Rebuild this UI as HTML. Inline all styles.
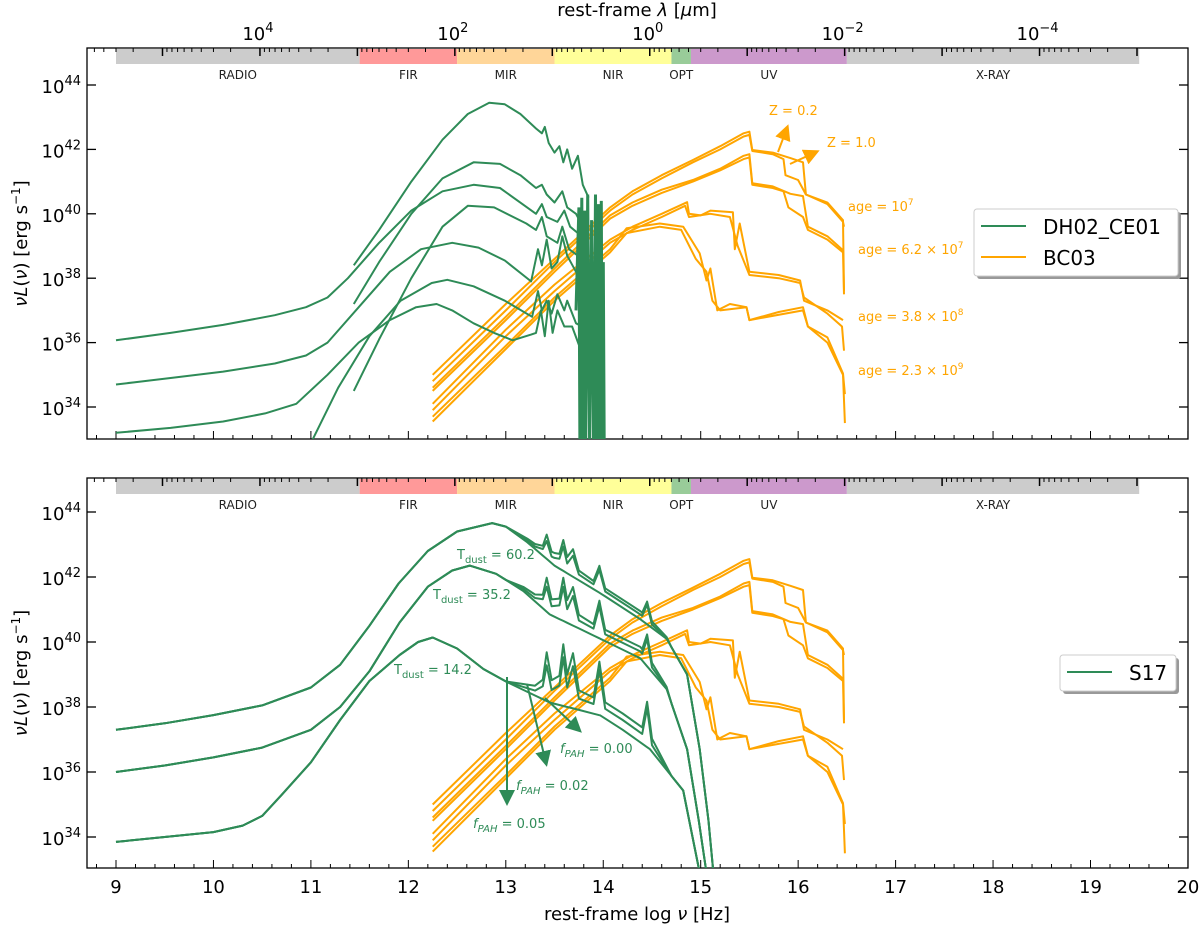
<!DOCTYPE html>
<html><head><meta charset="utf-8"><style>
html,body{margin:0;padding:0;background:#fff;width:1200px;height:925px;overflow:hidden}
svg{display:block;font-family:"DejaVu Sans","Liberation Sans",sans-serif}
</style></head><body>
<svg id="chart" width="1200" height="925" viewBox="0 0 1200 925" xmlns="http://www.w3.org/2000/svg"></svg>
<script>
// ---------- data ----------
const bandNames=["RADIO","FIR","MIR","NIR","OPT","UV","X-RAY"];
const bandStart=[9,11.5,12.5,13.5,14.7,14.9,16.5];
const bandEnd=[11.5,12.5,13.5,14.7,14.9,16.5,19.5];
const bandColors=["#cccccc","#ff9999","#ffd699","#ffff99","#99cc99","#cc99cc","#cccccc"];
const xTicks=[9,10,11,12,13,14,15,16,17,18,19,20];
const yTicks=[34,36,38,40,42,44];
const lamLabelExp=[4,2,0,-2,-4];

const dh02=[
[[11.44,38.4],[11.70,39.5],[12.03,41.0],[12.35,42.3],[12.61,43.1],[12.83,43.45],[12.99,43.4],[13.15,43.1],[13.31,42.65],[13.37,42.5],[13.40,42.7],[13.44,42.2],[13.50,41.9],[13.55,42.1],[13.59,41.6],[13.63,42.0],[13.68,41.4],[13.74,41.8],[13.79,40.9],[13.85,40.5]],
[[11.44,37.2],[11.70,38.5],[12.03,40.0],[12.35,41.1],[12.67,41.6],[12.94,41.55],[13.15,41.2],[13.31,40.8],[13.37,40.9],[13.42,40.6],[13.50,40.35],[13.58,40.7],[13.63,40.2],[13.72,40.0],[13.79,39.6],[13.85,39.4]],
[[9,36.07],[9.56,36.3],[10.10,36.55],[10.63,36.85],[10.95,37.1],[11.17,37.4],[11.38,38.0],[11.70,39.1],[12.03,40.1],[12.35,40.7],[12.67,40.9],[12.94,40.8],[13.31,40.0],[13.37,40.3],[13.42,39.9],[13.53,39.75],[13.60,40.1],[13.66,39.6],[13.74,39.4],[13.85,39.2]],
[[11.44,34.5],[11.70,36.1],[12.03,38.0],[12.35,39.6],[12.61,40.25],[12.88,40.2],[13.21,39.7],[13.31,39.5],[13.37,39.9],[13.42,39.3],[13.53,39.1],[13.58,39.6],[13.65,38.9],[13.74,38.7],[13.85,38.4]],
[[9,34.7],[9.56,34.9],[10.10,35.1],[10.63,35.35],[10.95,35.6],[11.17,36.0],[11.49,37.1],[11.81,38.2],[12.13,38.9],[12.45,39.1],[12.72,38.95],[12.99,38.55],[13.26,37.9],[13.33,38.9],[13.37,38.4],[13.42,39.2],[13.47,38.3],[13.53,38.5],[13.58,39.3],[13.63,38.7],[13.72,38.2],[13.79,37.9],[13.85,37.7]],
[[11.02,33.0],[11.28,34.6],[11.60,36.2],[11.92,37.3],[12.24,37.85],[12.40,37.95],[12.67,37.75],[12.99,37.3],[13.27,36.8],[13.33,37.6],[13.37,37.0],[13.42,37.3],[13.47,36.9],[13.53,37.5],[13.60,37.0],[13.63,37.3],[13.72,36.6],[13.85,36.4]],
[[9,33.2],[9.56,33.35],[10.10,33.55],[10.53,33.8],[10.85,34.1],[11.17,35.0],[11.49,36.0],[11.81,36.7],[12.08,37.1],[12.29,37.2],[12.45,37.0],[12.67,36.6],[12.88,36.3],[13.07,36.07],[13.26,36.25],[13.31,36.3],[13.36,37.0],[13.40,36.2],[13.44,37.3],[13.48,36.3],[13.53,37.0],[13.60,36.5],[13.68,36.5],[13.79,35.6],[13.85,35.3]]
];
const dh02Spikes=[[13.72,37],[13.75,40.2],[13.76,32.8],[13.78,40.5],[13.79,32.8],[13.81,40.1],[13.82,32.8],[13.84,40.6],[13.86,32.8],[13.88,39.8],[13.9,32.8],[13.92,40.6],[13.93,32.8],[13.95,40.3],[13.96,32.8],[13.98,40.4],[13.99,32.8],[14.0,38.5],[14.01,32.8]];

const bc03=[
[[12.25,35.0],[13.0,37.2],[13.5,38.6],[14.07,40.2],[14.3,40.7],[14.6,41.2],[14.92,41.67],[15.2,42.1],[15.44,42.5],[15.5,42.55],[15.53,41.98],[15.74,41.9],[15.92,41.73],[16.05,41.6],[16.08,40.6],[16.3,40.3],[16.46,39.75],[16.47,39.6]],
[[12.25,34.8],[13.0,37.0],[13.5,38.5],[14.07,40.1],[14.3,40.6],[14.6,41.1],[14.92,41.6],[15.2,42.0],[15.44,42.4],[15.5,42.45],[15.53,41.95],[15.74,41.85],[15.85,41.7],[15.87,41.2],[16.0,41.05],[16.08,40.6],[16.3,40.35],[16.46,39.8],[16.47,37.6]],
[[12.25,34.6],[13.0,36.8],[13.5,38.3],[14.07,39.95],[14.3,40.35],[14.6,40.75],[14.92,41.05],[15.2,41.4],[15.44,41.8],[15.5,41.85],[15.53,40.95],[15.74,40.85],[15.92,40.62],[16.05,40.55],[16.1,39.6],[16.3,39.3],[16.46,38.87]],
[[12.25,34.5],[13.0,36.7],[13.5,38.2],[14.07,39.85],[14.3,40.25],[14.6,40.65],[14.92,41.0],[15.2,41.35],[15.44,41.7],[15.5,41.75],[15.53,40.9],[15.74,40.8],[15.85,40.7],[15.9,40.2],[16.05,39.9],[16.1,39.5],[16.3,39.2],[16.46,38.8],[16.47,37.5]],
[[12.25,34.1],[13.0,36.4],[13.5,37.8],[14.07,39.2],[14.3,39.6],[14.6,40.0],[14.86,40.36],[14.88,40.0],[15.0,39.95],[15.1,40.1],[15.33,40.05],[15.35,38.9],[15.4,39.7],[15.5,38.2],[15.8,38.1],[16.02,37.93],[16.06,37.3],[16.3,37.0],[16.46,36.7]],
[[12.25,33.9],[13.0,36.2],[13.5,37.6],[14.07,39.1],[14.3,39.5],[14.6,39.9],[14.84,40.25],[14.88,39.9],[15.1,40.0],[15.3,39.9],[15.38,39.0],[15.5,38.1],[15.8,38.0],[16.02,37.85],[16.06,37.4],[16.3,36.9],[16.45,36.5],[16.47,35.75]],
[[12.25,33.7],[13.0,35.9],[13.5,37.4],[14.07,38.9],[14.24,39.55],[14.58,39.7],[14.82,39.6],[14.99,38.77],[15.06,37.93],[15.1,38.3],[15.17,37.0],[15.3,37.2],[15.47,37.1],[15.5,36.7],[15.8,36.95],[16.05,37.1],[16.1,36.5],[16.3,36.16],[16.46,35.04],[16.48,34.4]],
[[12.25,33.55],[13.0,35.8],[13.5,37.3],[14.07,38.8],[14.24,39.4],[14.58,39.6],[14.8,39.5],[14.95,38.6],[15.06,38.2],[15.12,37.3],[15.2,37.0],[15.47,37.1],[15.5,36.7],[16.05,37.0],[16.1,36.5],[16.3,36.0],[16.46,35.0],[16.48,33.5]]
];

const s17Base=[
[[9,37.3],[9.5,37.5],[10,37.75],[10.5,38.05],[11.0,38.6],[11.3,39.3],[11.6,40.5],[11.9,41.8],[12.2,42.8],[12.5,43.4],[12.86,43.66],[13.0,43.55],[13.22,43.07],[13.5,42.35],[13.97,41.5],[14.38,40.7],[14.65,40.1],[14.86,39.0],[14.99,36.7],[15.08,34.5],[15.13,32.9]],
[[9,36.0],[9.5,36.2],[10,36.45],[10.5,36.75],[11.0,37.3],[11.3,38.0],[11.6,39.1],[11.91,40.6],[12.2,41.7],[12.45,42.2],[12.63,42.35],[12.9,42.1],[13.18,41.57],[13.45,40.85],[13.97,40.1],[14.38,39.5],[14.65,38.55],[14.86,36.7],[14.98,34.5],[15.06,32.9]],
[[9,33.85],[9.5,34.0],[10,34.15],[10.3,34.35],[10.5,34.65],[10.7,35.3],[11.0,36.3],[11.3,37.6],[11.6,38.8],[11.91,39.6],[12.1,40.0],[12.25,40.14],[12.5,39.8],[12.77,39.17],[13.01,38.77],[13.45,38.14],[13.97,37.74],[14.2,37.3],[14.48,36.7],[14.82,35.43],[14.99,32.9]]
];
const pahV=[13.0,13.3,13.38,13.42,13.47,13.55,13.59,13.63,13.69,13.75,13.9,13.96,14.02,14.4,14.45,14.5,14.7];
const pahOff05=[0,0.3,0.6,1.5,0.7,0.9,1.9,1.0,1.7,0.6,0.5,1.65,0.5,0.5,1.4,0.4,0];
const pahOff02=[0,0.15,0.4,1.1,0.4,0.6,1.5,0.6,1.3,0.35,0.3,1.4,0.3,0.3,1.2,0.2,0];
const pahScale=[0.5,0.7,1.0];

// ---------- helpers ----------
const NS="http://www.w3.org/2000/svg";
const svg=document.getElementById('chart');
const L=87,R=1188;
const panels=[{top:48,bot:439,y44:85,dec:32.2},{top:478,bot:868,y44:512,dec:32.5}];
function X(v){return 116+(v-9)*97.45;}
function Yf(p){return l=>p.y44+(44-l)*p.dec;}
function mk(tag,attrs,parent){const e=document.createElementNS(NS,tag);for(const k in attrs)e.setAttribute(k,attrs[k]);(parent||svg).appendChild(e);return e;}
function interp(arr,xs,v){
  if(v<=xs[0])return arr[0]; if(v>=xs[xs.length-1])return arr[arr.length-1];
  for(let i=1;i<xs.length;i++){if(v<=xs[i]){const t=(v-xs[i-1])/(xs[i]-xs[i-1]);return arr[i-1]+t*(arr[i]-arr[i-1]);}}
}
function pathOf(pts,Y){return pts.map((p,i)=>(i?'L':'M')+X(p[0]).toFixed(1)+','+Y(p[1]).toFixed(1)).join('');}
const defs=mk('defs',{});
panels.forEach((p,i)=>{const c=mk('clipPath',{id:'clip'+i},defs);mk('rect',{x:L,y:p.top,width:R-L,height:p.bot-p.top},c);});

function lamTicks(){const out=[];for(let d=-5;d<=6;d++)for(let m=1;m<=9;m++){const lam=m*Math.pow(10,d);const v=Math.log10(3e14/lam);if(v>=8.7&&v<=20.3)out.push([v,m===1]);}return out;}

panels.forEach((p,pi)=>{
  const Y=Yf(p);
  const g=mk('g',{});
  
  
  bandNames.forEach((n,i)=>{
    const r=mk('rect',{x:X(bandStart[i]),y:p.top+1,width:X(bandEnd[i])-X(bandStart[i]),height:15,fill:bandColors[i]},g);
    
    
    const t=mk('text',{x:(X(bandStart[i])+X(bandEnd[i]))/2,y:p.top+31,'font-size':12,'text-anchor':'middle',fill:'#222'},g);
    t.textContent=n;
    
    
  });
  const f=mk('rect',{x:L,y:p.top,width:R-L,height:p.bot-p.top,fill:'none',stroke:'#000','stroke-width':1.3},g);
  
  
  for(let v=8.8;v<=20.01;v+=0.2){const maj=Math.abs(v-Math.round(v))<0.01;const x=X(v);if(x<L||x>R)continue;
    mk('line',{x1:x,x2:x,y1:p.bot,y2:p.bot-(maj?8:4),stroke:'#000','stroke-width':1},g);}
  lamTicks().forEach(([v,maj])=>{const x=X(v);if(x<L||x>R)return;mk('line',{x1:x,x2:x,y1:p.top,y2:p.top+(maj?8:4),stroke:'#000','stroke-width':maj?1.5:1},g);});
  yTicks.forEach(l=>{const y=Y(l);
    mk('line',{x1:L,x2:L+9,y1:y,y2:y,stroke:'#000','stroke-width':1.3},g);
    mk('line',{x1:R,x2:R-9,y1:y,y2:y,stroke:'#000','stroke-width':1.3},g);
    const t=mk('text',{x:81,y:y+8,'font-size':18,'text-anchor':'end',fill:'#000'},g);
    t.innerHTML='10<tspan dy="-8" font-size="13">'+l+'</tspan>';
    
    
  });
  const yl=mk('text',{x:0,y:0,'font-size':18,'text-anchor':'middle',transform:'translate(27,'+((p.top+p.bot)/2)+') rotate(-90)'},g);
  yl.innerHTML='<tspan font-style="italic">ν</tspan><tspan font-style="italic">L</tspan>(<tspan font-style="italic">ν</tspan>) [erg s<tspan dy="-7" font-size="12">−1</tspan><tspan dy="7">]</tspan>';
  
  
});

lamLabelExp.forEach(e=>{const v=Math.log10(3e14/Math.pow(10,e));
  const t=mk('text',{x:X(v)-2,y:40,'font-size':18,'text-anchor':'middle'});
  t.innerHTML='10<tspan dy="-8" font-size="13">'+(e<0?'−'+(-e):e)+'</tspan>';
  
  
});
const tt=mk('text',{x:637,y:16,'font-size':18,'text-anchor':'middle'});
tt.innerHTML='rest-frame <tspan font-style="italic">λ</tspan> [<tspan font-style="italic">μ</tspan>m]';


xTicks.forEach(v=>{const t=mk('text',{x:X(v),y:893,'font-size':18,'text-anchor':'middle'});t.textContent=v;
  
  });
const xt=mk('text',{x:637,y:920,'font-size':18,'text-anchor':'middle'});
xt.innerHTML='rest-frame log <tspan font-style="italic">ν</tspan> [Hz]';



const GREEN='#2e8b57',ORANGE='#ffa500';
(function(){const p=panels[0],Y=Yf(p);const g=mk('g',{'clip-path':'url(#clip0)'});
  bc03.forEach((c,i)=>{const e=mk('path',{d:pathOf(c,Y),fill:'none',stroke:ORANGE,'stroke-width':2,'stroke-linejoin':'round'},g);
    
    });
  dh02.forEach((c,i)=>{const e=mk('path',{d:pathOf(c,Y),fill:'none',stroke:GREEN,'stroke-width':2,'stroke-linejoin':'round'},g);
    
    });
  const s=mk('path',{d:pathOf(dh02Spikes,Y),fill:'none',stroke:GREEN,'stroke-width':3},g);
  
  
})();
(function(){const p=panels[1],Y=Yf(p);const g=mk('g',{'clip-path':'url(#clip1)'});
  bc03.forEach((c,i)=>{const e=mk('path',{d:pathOf(c,Y),fill:'none',stroke:ORANGE,'stroke-width':2,'stroke-linejoin':'round'},g);
    
    });
  s17Base.forEach((c,ti)=>{
    const xs=c.map(q=>q[0]),ls=c.map(q=>q[1]);
    const vs=Array.from(new Set(xs.concat(pahV))).sort((a,b)=>a-b);
    [null,pahOff02,pahOff05].forEach((off,k)=>{
      const pts=vs.map(v=>[v,interp(ls,xs,v)+(off?interp(off,pahV,v)*pahScale[ti]:0)]);
      const e=mk('path',{d:pathOf(pts,Y),fill:'none',stroke:GREEN,'stroke-width':2,'stroke-linejoin':'round'},g);
      
      
    });
  });
})();

mk('defs',{}).innerHTML='<marker id="ao" markerWidth="8" markerHeight="8" refX="6" refY="4" orient="auto"><path d="M0,0L8,4L0,8z" fill="'+ORANGE+'"/></marker><marker id="ag" markerWidth="8" markerHeight="8" refX="6" refY="4" orient="auto"><path d="M0,0L8,4L0,8z" fill="'+GREEN+'"/></marker>';
function ann(txt,x,y,col,name){const t=mk('text',{x:x,y:y,'font-size':13,fill:col});t.innerHTML=txt;
  
  return t;}
function arrow(x1,y1,x2,y2,col,m,name){const a=mk('line',{x1,y1,x2,y2,stroke:col,'stroke-width':2,'marker-end':'url(#'+m+')'});
  
  }
ann('Z = 0.2',769,115,ORANGE,'z02-label');arrow(778,152,787,128,ORANGE,'ao','z02-arrow');
ann('Z = 1.0',827,147,ORANGE,'z10-label');arrow(790,164,816,152,ORANGE,'ao','z10-arrow');
ann('age = 10<tspan dy="-6" font-size="9">7</tspan>',848,211,ORANGE,'age-1e7-label');
ann('age = 6.2 × 10<tspan dy="-6" font-size="9">7</tspan>',858,254,ORANGE,'age-6e7-label');
ann('age = 3.8 × 10<tspan dy="-6" font-size="9">8</tspan>',858,321,ORANGE,'age-4e8-label');
ann('age = 2.3 × 10<tspan dy="-6" font-size="9">9</tspan>',858,375,ORANGE,'age-2e9-label');
ann('T<tspan dy="4" font-size="10">dust</tspan><tspan dy="-4"> = 60.2</tspan>',457,559,GREEN,'tdust-60-label');
ann('T<tspan dy="4" font-size="10">dust</tspan><tspan dy="-4"> = 35.2</tspan>',433,599,GREEN,'tdust-35-label');
ann('T<tspan dy="4" font-size="10">dust</tspan><tspan dy="-4"> = 14.2</tspan>',394,674,GREEN,'tdust-14-label');
ann('<tspan font-style="italic">f</tspan><tspan dy="4" font-size="10" font-style="italic">PAH</tspan><tspan dy="-4"> = 0.00</tspan>',560,753,GREEN,'fpah-000-label');
ann('<tspan font-style="italic">f</tspan><tspan dy="4" font-size="10" font-style="italic">PAH</tspan><tspan dy="-4"> = 0.02</tspan>',516,790,GREEN,'fpah-002-label');
ann('<tspan font-style="italic">f</tspan><tspan dy="4" font-size="10" font-style="italic">PAH</tspan><tspan dy="-4"> = 0.05</tspan>',473,828,GREEN,'fpah-005-label');
arrow(507,677,507,802,GREEN,'ag','fpah-005-arrow');
arrow(527,684,546,763,GREEN,'ag','fpah-002-arrow');
arrow(545,698,579,730,GREEN,'ag','fpah-000-arrow');

function legend(x,y,w,h,items,name){const g=mk('g',{});
  
  
  mk('rect',{x:x+3,y:y+3,width:w,height:h,rx:3,fill:'#999'},g);
  mk('rect',{x:x,y:y,width:w,height:h,rx:3,fill:'#fff',stroke:'#ccc'},g);
  items.forEach((it,i)=>{const yy=y+17+i*31;
    mk('line',{x1:x+7,x2:x+52,y1:yy,y2:yy,stroke:it[1],'stroke-width':2},g);
    const t=mk('text',{x:x+69,y:yy+8,'font-size':20},g);t.textContent=it[0];
    
    });}
legend(974,209,204,67,[["DH02_CE01",GREEN],["BC03",ORANGE]],'top-legend');
legend(1060,655,116,36,[["S17",GREEN]],'bottom-legend');
</script>
</body></html>
